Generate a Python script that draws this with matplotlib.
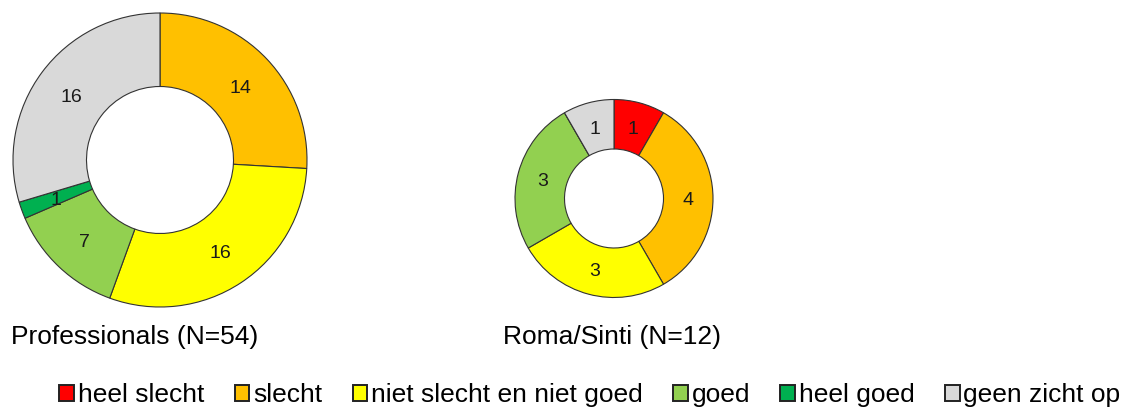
import matplotlib
matplotlib.use("Agg")
import matplotlib.pyplot as plt
from matplotlib.patches import Patch
import numpy as np

plt.rcParams['font.family'] = ['Liberation Sans', 'DejaVu Sans']

categories = ["heel slecht", "slecht", "niet slecht en niet goed", "goed", "heel goed", "geen zicht op"]
colors = ["#FF0000", "#FFC000", "#FFFF00", "#92D050", "#00B050", "#D9D9D9"]

prof_values = [0, 14, 16, 7, 1, 16]
roma_values = [1, 4, 3, 3, 0, 1]
titles = ["Professionals (N=54)", "Roma/Sinti (N=12)"]

fig = plt.figure(figsize=(11.28, 4.08), dpi=100)
W, H = 1128, 408


def donut(cx, cy, r, values, title, title_x):
    ax = fig.add_axes([(cx - r) / W, (H - cy - r) / H, 2 * r / W, 2 * r / H])
    vals = [v if v > 0 else 1e-9 for v in values]
    ax.pie(vals, colors=colors, startangle=90, counterclock=False, radius=1,
           wedgeprops=dict(width=0.5, edgecolor="#333333", linewidth=0.8))
    total = sum(values)
    ang = 90.0
    for v in values:
        if v == 0:
            continue
        mid = np.deg2rad(ang - v / total * 180.0)
        ang -= v / total * 360.0
        ax.text(0.75 * np.cos(mid), 0.74 * np.sin(mid) - 0.02, str(v),
                ha="center", va="center", fontsize=14, color="#1a1a1a")
    ax.set_xlim(-1, 1)
    ax.set_ylim(-1, 1)
    ax.axis("off")
    fig.text(title_x / W, 1 - 337 / H, title, ha="left", va="center", fontsize=19)


donut(160, 160, 147, prof_values, titles[0], 11)
donut(614, 198.5, 99, roma_values, titles[1], 503)

handles = [Patch(facecolor=c, edgecolor="#222222", linewidth=1.4) for c in colors]
fig.legend(handles, categories, loc="center", bbox_to_anchor=(590 / W, 1 - 395 / H),
           ncol=6, frameon=False, fontsize=19, handlelength=0.55, handleheight=0.55,
           handletextpad=0.15, columnspacing=1.15, borderpad=0)

fig.savefig("out.png", dpi=100)
